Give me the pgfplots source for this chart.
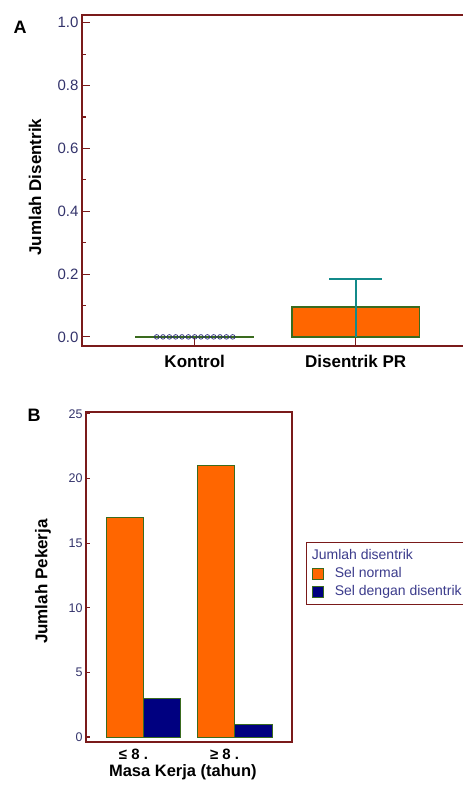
\documentclass[border=0pt]{standalone}
\usepackage{pgfplots}
\pgfplotsset{compat=1.18}
\usepackage{fontspec}
\setmainfont{Liberation Sans}
\definecolor{axred}{HTML}{7A1A1A}
\definecolor{tickblue}{HTML}{33336B}
\definecolor{legblue}{HTML}{3C3C8C}
\definecolor{barorange}{HTML}{FF6600}
\definecolor{barnavy}{HTML}{000080}
\definecolor{edgegreen}{HTML}{3A6B1E}
\definecolor{whisk}{HTML}{138A8A}
\definecolor{ptblue}{HTML}{2B2B7A}
\newcommand{\fs}[1]{\fontsize{#1}{#1}\selectfont}
\pgfplotsset{/pgf/number format/assume math mode=true}
\begin{document}
\begin{tikzpicture}[x=1bp,y=1bp]
% ---------------- Panel A ----------------
\begin{axis}[
  at={(82bp,445bp)}, anchor=south west, scale only axis,
  width=418.6bp, height=331bp,
  xmin=0.3, xmax=2.9, ymin=-0.029, ymax=1.025,
  axis line style={axred, line width=1.6bp},
  xtick={1,2}, xticklabels={Kontrol, Disentrik PR},
  xtick pos=bottom, ytick pos=left,
  ytick={0,0.2,0.4,0.6,0.8,1.0},
  minor ytick={0.1,0.3,0.5,0.7,0.9},
  tick align=inside, major tick length=8bp, minor tick length=4bp,
  tick style={axred, line width=1.1bp},
  yticklabel style={font=\fs{15bp}, text=tickblue, /pgf/number format/.cd, fixed, fixed zerofill, precision=1},
  xticklabel style={font=\fs{17bp}\bfseries, text=black, yshift=-6bp},
  ylabel={Jumlah Disentrik},
  ylabel style={font=\fs{17bp}\bfseries, at={(axis description cs:-0.112,0.48)}, anchor=center},
]
\addplot[edgegreen, line width=2bp] coordinates {(0.63,0) (1.37,0)};
\addplot[only marks, mark=o, mark size=2.3bp, ptblue, line width=0.7bp] coordinates {
  (0.764,0) (0.803,0) (0.843,0) (0.882,0) (0.921,0) (0.961,0) (1.000,0)
  (1.039,0) (1.079,0) (1.118,0) (1.157,0) (1.197,0) (1.236,0)};
\addplot[fill=barorange, draw=edgegreen, line width=1.3bp] coordinates {(1.605,0) (2.395,0) (2.395,0.095) (1.605,0.095)} -- cycle;
\addplot[whisk, line width=2bp] coordinates {(2,0) (2,0.185)};
\addplot[whisk, line width=2bp] coordinates {(1.835,0.185) (2.165,0.185)};
\end{axis}
\node[font=\fs{18bp}\bfseries] at (20,764) {A};
% ---------------- Panel B ----------------
\begin{axis}[
  at={(86bp,49bp)}, anchor=south west, scale only axis,
  width=206bp, height=330bp,
  xmin=-0.63, xmax=1.63, ymin=-0.39, ymax=25.15,
  ybar=0pt, bar width=0.41,
  axis line style={axred, line width=1.6bp},
  xtick={0,1}, xticklabels={≤ 8 ., ≥ 8 .},
  xtick pos=bottom, ytick pos=left,
  ytick={0,5,10,15,20,25},
  tick align=inside, major tick length=4bp,
  tick style={axred, line width=1.1bp},
  x tick style={draw=none},
  yticklabel style={font=\fs{12.5bp}, text=tickblue},
  xticklabel style={font=\fs{15bp}\bfseries, text=black, xshift=-10bp, yshift=-4bp},
  xlabel={Masa Kerja (tahun)},
  xlabel style={font=\fs{16.5bp}\bfseries, at={(axis description cs:0.47,-0.091)}, anchor=center},
  ylabel={Jumlah Pekerja},
  ylabel style={font=\fs{17bp}\bfseries, at={(axis description cs:-0.209,0.486)}, anchor=center},
  legend style={at={(1.068,0.606)}, anchor=north west, draw=axred, line width=0.8bp,
    font=\fontsize{14bp}{16bp}\selectfont, text=legblue, cells={anchor=west},
    row sep=2.5bp, inner xsep=6bp, inner ysep=5bp},
  legend image code/.code={\draw[#1, line width=0.4bp] (0bp,-5.5bp) rectangle (11bp,5.5bp);},
]
\addlegendimage{empty legend}
\addlegendentry{\hspace{-14bp}Jumlah disentrik}
\addplot[fill=barorange, draw=edgegreen, line width=0.9bp] coordinates {(0,17) (1,21)};
\addlegendentry{\hspace{9bp}Sel normal}
\addplot[fill=barnavy, draw=edgegreen, line width=0.9bp] coordinates {(0,3) (1,1)};
\addlegendentry{\hspace{9bp}Sel dengan disentrik}
\end{axis}
\node[font=\fs{18bp}\bfseries] at (34,376) {B};
\pgfresetboundingbox
\useasboundingbox (0,0) rectangle (463,791);
\end{tikzpicture}
\end{document}
